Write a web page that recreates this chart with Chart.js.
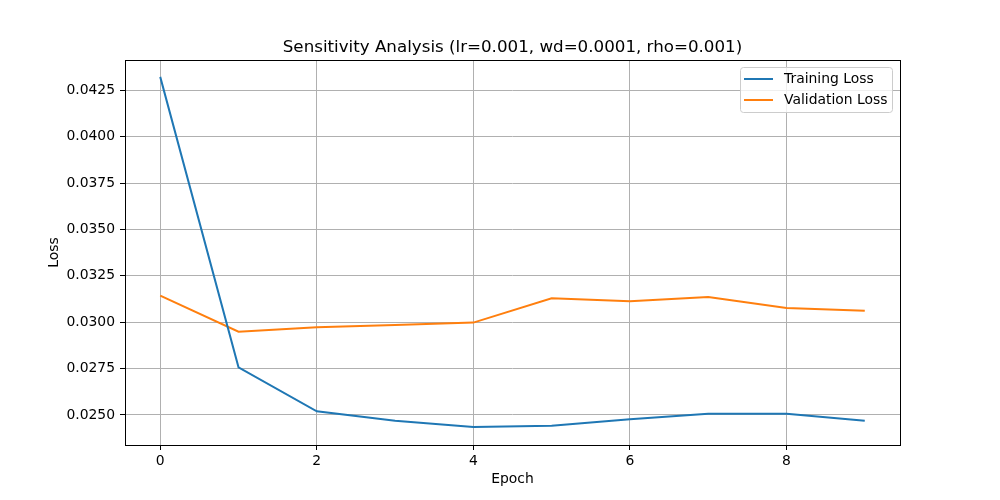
<!DOCTYPE html>
<html>
<head>
<meta charset="utf-8">
<script src="https://cdn.jsdelivr.net/npm/chart.js@4"></script>
<style>
  html, body { margin: 0; padding: 0; background: #fff; }
  #wrap { width: 1000px; height: 500px; }
</style>
</head>
<body>
<div id="wrap"><canvas id="graph" width="1000" height="500"></canvas></div>
<script>
// values
const epochs = [0, 1, 2, 3, 4, 5, 6, 7, 8, 9];
const trainingLoss = [0.04323, 0.02757, 0.02520, 0.02469, 0.02435, 0.02442, 0.02477, 0.02506, 0.02506, 0.02469];
const validationLoss = [0.03143, 0.02949, 0.02973, 0.02985, 0.02998, 0.03129, 0.03113, 0.03136, 0.03077, 0.03062];
const xTicks = [0, 2, 4, 6, 8];
const yTicks = [0.025, 0.0275, 0.03, 0.0325, 0.035, 0.0375, 0.04, 0.0425];
const chartTitle = 'Sensitivity Analysis (lr=0.001, wd=0.0001, rho=0.001)';

const FONT = 'DejaVu Sans';
const FS = 13.9;

// frame, title over the plot area, and a matplotlib style legend in the upper right
const framePlugin = {
    id: 'frame',
    afterDraw(chart) {
        const ctx = chart.ctx;
        const a = chart.chartArea;
        ctx.save();
        ctx.strokeStyle = '#000';
        ctx.lineWidth = 1;
        ctx.strokeRect(Math.round(a.left) + 0.5, Math.round(a.top) + 0.5,
            Math.round(a.right - a.left), Math.round(a.bottom - a.top));

        ctx.fillStyle = '#000';
        ctx.font = '16.7px ' + FONT;
        ctx.textAlign = 'center';
        ctx.textBaseline = 'middle';
        ctx.fillText(chartTitle, (a.left + a.right) / 2, 47.5);

        // legend
        const bx = 740.5, by = 67.5, bw = 152, bh = 45;
        ctx.beginPath();
        ctx.roundRect(bx, by, bw, bh, 3);
        ctx.fillStyle = 'rgba(255,255,255,0.8)';
        ctx.fill();
        ctx.strokeStyle = '#cccccc';
        ctx.stroke();

        ctx.font = FS + 'px ' + FONT;
        ctx.textAlign = 'left';
        chart.data.datasets.forEach((ds, i) => {
            const y = 79 + i * 21;
            ctx.beginPath();
            ctx.moveTo(744, y);
            ctx.lineTo(773, y);
            ctx.strokeStyle = ds.borderColor;
            ctx.lineWidth = 2;
            ctx.stroke();
            ctx.fillStyle = '#000';
            ctx.fillText(ds.label, 784, y);
        });
        ctx.restore();
    }
};

let canvas = document.getElementById('graph').getContext('2d');

new Chart(canvas, {
    type: 'line',
    data: {
        datasets: [
            {
                label: 'Training Loss',
                data: epochs.map((e, i) => ({ x: e, y: trainingLoss[i] })),
                borderColor: '#1f77b4',
                borderWidth: 2,
                pointRadius: 0,
                tension: 0,
            },
            {
                label: 'Validation Loss',
                data: epochs.map((e, i) => ({ x: e, y: validationLoss[i] })),
                borderColor: '#ff7f0e',
                borderWidth: 2,
                pointRadius: 0,
                tension: 0,
            }
        ]
    },
    options: {
        responsive: false,
        animation: false,
        devicePixelRatio: 1,
        layout: { padding: { left: 0, right: 100, top: 60, bottom: 0 } },
        scales: {
            x: {
                type: 'linear',
                min: -0.45,
                max: 9.45,
                afterBuildTicks: (scale) => { scale.ticks = xTicks.map(v => ({ value: v })); },
                afterFit: (scale) => { scale.height = 55; },
                grid: { color: '#b0b0b0', lineWidth: 1, tickColor: '#000', tickLength: 5 },
                border: { display: false },
                ticks: { color: '#000', font: { family: FONT, size: FS }, padding: 3, maxRotation: 0 },
                title: { display: true, text: 'Epoch', color: '#000', font: { family: FONT, size: FS }, padding: { top: 6, bottom: 12 } }
            },
            y: {
                min: 0.02338,
                max: 0.04414,
                afterBuildTicks: (scale) => { scale.ticks = yTicks.map(v => ({ value: v })); },
                afterFit: (scale) => { scale.width = 125; },
                grid: { color: '#b0b0b0', lineWidth: 1, tickColor: '#000', tickLength: 5 },
                border: { display: false },
                ticks: {
                    color: '#000',
                    font: { family: FONT, size: FS },
                    padding: 5,
                    callback: (value) => value.toFixed(4)
                },
                title: { display: true, text: 'Loss', color: '#000', font: { family: FONT, size: FS }, padding: { top: 46, bottom: 0 } }
            }
        },
        plugins: {
            legend: { display: false },
            tooltip: { enabled: false },
            title: { display: false }
        }
    },
    plugins: [framePlugin]
});
</script>
</body>
</html>
